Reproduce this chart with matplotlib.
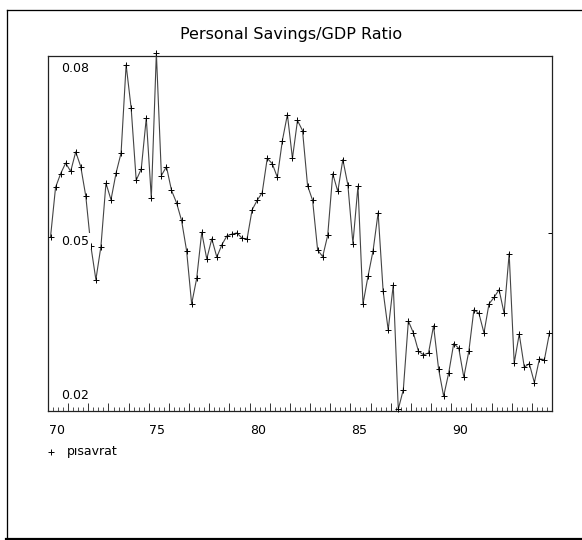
import numpy as np
import matplotlib
matplotlib.use("Agg")
import matplotlib.pyplot as plt
from matplotlib.lines import Line2D
from matplotlib.transforms import offset_copy, blended_transform_factory

# Quarterly personal savings / GDP ratio, 1970Q1 - 1994Q4
start_year = 70
savings_ratio = [
    0.0494, 0.0578, 0.0601, 0.0619, 0.0605, 0.0638, 0.0613, 0.0563,
    0.0479, 0.0422, 0.0478, 0.0585, 0.0557, 0.0602, 0.0636, 0.0785,
    0.0712, 0.0590, 0.0609, 0.0695, 0.0560, 0.0805, 0.0598, 0.0613,
    0.0573, 0.0552, 0.0522, 0.0471, 0.0381, 0.0424, 0.0502, 0.0457,
    0.0491, 0.0460, 0.0481, 0.0496, 0.0499, 0.0501, 0.0492, 0.0491,
    0.0540, 0.0556, 0.0569, 0.0627, 0.0618, 0.0595, 0.0657, 0.0701,
    0.0627, 0.0691, 0.0674, 0.0581, 0.0556, 0.0472, 0.0461, 0.0497,
    0.0601, 0.0571, 0.0625, 0.0582, 0.0483, 0.0580, 0.0381, 0.0428,
    0.0471, 0.0535, 0.0402, 0.0337, 0.0413, 0.0203, 0.0236, 0.0352,
    0.0332, 0.0301, 0.0295, 0.0298, 0.0344, 0.0271, 0.0225, 0.0264,
    0.0314, 0.0306, 0.0257, 0.0301, 0.0371, 0.0365, 0.0332, 0.0381,
    0.0392, 0.0405, 0.0365, 0.0466, 0.0281, 0.0330, 0.0274, 0.0280,
    0.0248, 0.0288, 0.0287, 0.0332,
]
x_tick_labels = ["70", "75", "80", "85", "90"]
y_tick_values = [0.02, 0.05, 0.08]
y_tick_labels = ["0.02", "0.05", "0.08"]
series_name = "pısavrat"
title = "Personal Savings/GDP Ratio"

# quarters plotted at mid-quarter
t = start_year + (np.arange(len(savings_ratio)) + 0.5) / 4.0

W, H = 582, 540
fig = plt.figure(figsize=(W / 100, H / 100), dpi=100)
fig.patch.set_facecolor("white")

# outer frame (open on the right)
def fx(px):
    return px / W

def fy(py):
    return 1 - py / H

for (x0, y0, x1, y1, lw) in [
    (7, 9.5, 7, 538.5, 1.3),
    (7, 9.5, 590, 9.5, 1.3),
    (6, 538.8, 590, 538.8, 2.2),
]:
    fig.add_artist(Line2D([fx(x0), fx(x1)], [fy(y0), fy(y1)],
                          transform=fig.transFigure, color="black", lw=lw * 0.72))

ax = fig.add_axes([fx(48), fy(411), fx(552) - fx(48), fy(56) - fy(411)])
ax.set_xlim(70, 95)
ax.set_ylim(0.02, 0.08)
for sp in ax.spines.values():
    sp.set_linewidth(0.9)
    sp.set_color("#222222")

ax.plot(t, savings_ratio, color="#444444", lw=0.8, marker="+", ms=4,
        mew=0.7, mec="black", clip_on=False, zorder=3)

# bottom ticks: long at years, short at quarters
ax.set_xticks(np.arange(70, 95.01, 1))
ax.set_xticks(np.arange(70, 95.01, 0.25), minor=True)
ax.tick_params(axis="x", which="major", direction="in", length=6, width=0.7,
               labelbottom=False, color="#333333")
ax.tick_params(axis="x", which="minor", direction="in", length=3, width=0.6,
               color="#333333")
ax.tick_params(axis="y", which="both", left=False, labelleft=False,
               right=True, direction="in", length=3, width=0.7)
ax.set_yticks(y_tick_values)

font = "DejaVu Sans"
# x labels, left aligned at the year
tr = offset_copy(blended_transform_factory(ax.transData, ax.transAxes),
                 fig=fig, x=0.5, y=-9, units="points")
for lab in x_tick_labels:
    ax.text(float(lab), 0, lab, transform=tr, ha="left", va="top",
            fontsize=9, family=font)

# y labels drawn inside the frame
ytr = blended_transform_factory(ax.transAxes, ax.transData)
label_box = dict(facecolor="white", edgecolor="none", pad=1.2)
y_offsets = {"0.08": (-4.5, "top"), "0.05": (-0.8, "top"), "0.02": (6.8, "bottom")}
for val, lab in zip(y_tick_values, y_tick_labels):
    dy, va = y_offsets[lab]
    ax.text(13 / 504, val, lab, transform=offset_copy(ytr, fig=fig, y=dy, units="points"),
            ha="left", va=va, fontsize=9, family=font, bbox=label_box, zorder=5)

fig.text(fx(291), fy(35), title, ha="center", va="center", fontsize=11.5, family=font)

# legend entry
fig.add_artist(Line2D([fx(51)], [fy(452)], transform=fig.transFigure, marker="+",
                      ms=4, mew=0.7, color="black", lw=0))
fig.text(fx(67), fy(452), series_name, ha="left", va="center", fontsize=9, family=font)

fig.savefig("out.png", dpi=100, facecolor="white")
